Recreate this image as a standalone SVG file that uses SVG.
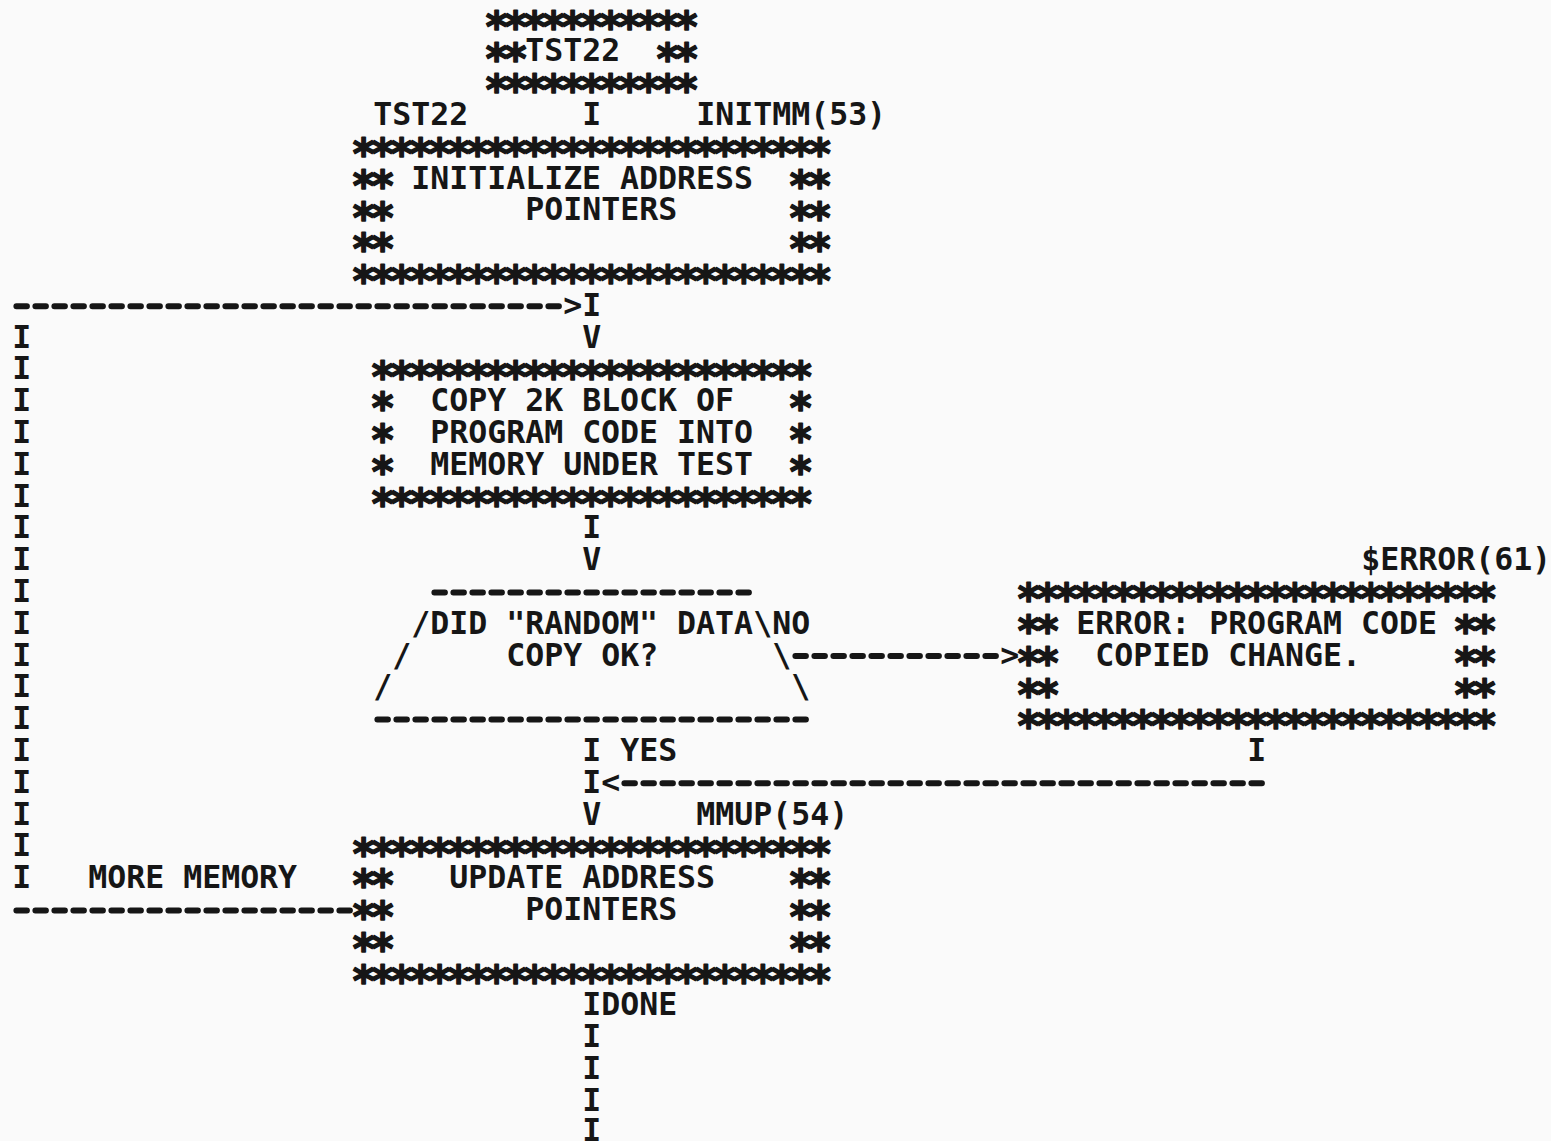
<svg xmlns="http://www.w3.org/2000/svg" width="1551" height="1141" viewBox="0 0 1551 1141">
<style>
text{font-family:"DejaVu Sans Mono","Liberation Mono",monospace;font-weight:bold;fill:#161616;white-space:pre}
.t{font-size:31.56px}
.s{font-size:42px;letter-spacing:-6.28px;stroke:#161616;stroke-width:1.4px;stroke-linejoin:round}
.d{stroke:#161616;stroke-width:6;stroke-linecap:round;stroke-dasharray:10.5 8.5;fill:none}
</style>
<rect width="1551" height="1141" fill="#fafafa"/>
<g id="start">
<text class="s" x="484.06" y="41.8">***********</text>
<text class="s" x="484.06" y="73.6">**</text><text class="t" x="525.2" y="61.3">TST22</text><text class="s" x="655.06" y="73.6">**</text>
<text class="s" x="484.06" y="105.4">***********</text>
<text class="t" x="373.2" y="124.9">TST22</text>
</g>
<g id="init">
<text class="t" x="696.2" y="124.9">INITMM(53)</text>
<text class="s" x="351.06" y="169">*************************</text>
<text class="s" x="351.06" y="200.8">**</text><text class="t" x="411.2" y="188.5">INITIALIZE ADDRESS</text><text class="s" x="788.06" y="200.8">**</text>
<text class="s" x="351.06" y="232.6">**</text><text class="t" x="525.2" y="220.3">POINTERS</text><text class="s" x="788.06" y="232.6">**</text>
<text class="s" x="351.06" y="264.4">**</text><text class="s" x="788.06" y="264.4">**</text>
<text class="s" x="351.06" y="296.2">*************************</text>
</g>
<g id="copy">
<text class="s" x="370.06" y="391.6">***********************</text>
<text class="s" x="370.06" y="423.4">*</text><text class="t" x="430.2" y="411.1">COPY 2K BLOCK OF</text><text class="s" x="788.06" y="423.4">*</text>
<text class="s" x="370.06" y="455.2">*</text><text class="t" x="430.2" y="442.9">PROGRAM CODE INTO</text><text class="s" x="788.06" y="455.2">*</text>
<text class="s" x="370.06" y="487">*</text><text class="t" x="430.2" y="474.7">MEMORY UNDER TEST</text><text class="s" x="788.06" y="487">*</text>
<text class="s" x="370.06" y="518.8">***********************</text>
</g>
<g id="decision">
<line class="d" x1="434.4" y1="592.4" x2="749" y2="592.4"/>
<text class="t" x="411.2" y="633.7">/DID "RANDOM" DATA</text><text class="t" x="753.2" y="633.7">\</text>
<text class="t" x="392.2" y="665.5">/</text><text class="t" x="506.2" y="665.5">COPY OK?</text><text class="t" x="772.2" y="665.5">\</text>
<text class="t" x="373.2" y="697.3">/</text><text class="t" x="791.2" y="697.3">\</text>
<line class="d" x1="377.4" y1="719.6" x2="806" y2="719.6"/>
</g>
<g id="error">
<text class="t" x="1361.2" y="570.1">$ERROR(61)</text>
<text class="s" x="1016.06" y="614.2">*************************</text>
<text class="s" x="1016.06" y="646">**</text><text class="t" x="1076.2" y="633.7">ERROR: PROGRAM CODE</text><text class="s" x="1453.06" y="646">**</text>
<text class="s" x="1016.06" y="677.8">**</text><text class="t" x="1095.2" y="665.5">COPIED CHANGE.</text><text class="s" x="1453.06" y="677.8">**</text>
<text class="s" x="1016.06" y="709.6">**</text><text class="s" x="1453.06" y="709.6">**</text>
<text class="s" x="1016.06" y="741.4">*************************</text>
</g>
<g id="update">
<text class="t" x="696.2" y="824.5">MMUP(54)</text>
<text class="s" x="351.06" y="868.6">*************************</text>
<text class="s" x="351.06" y="900.4">**</text><text class="t" x="449.2" y="888.1">UPDATE ADDRESS</text><text class="s" x="788.06" y="900.4">**</text>
<text class="s" x="351.06" y="932.2">**</text><text class="t" x="525.2" y="919.9">POINTERS</text><text class="s" x="788.06" y="932.2">**</text>
<text class="s" x="351.06" y="964">**</text><text class="s" x="788.06" y="964">**</text>
<text class="s" x="351.06" y="995.8">*************************</text>
</g>
<g id="connectors">
<text class="t" x="582.2" y="124.9">I</text>
<line class="d" x1="16.4" y1="306.2" x2="559" y2="306.2"/>
<text class="t" x="563.2" y="315.7">&gt;</text><text class="t" x="582.2" y="315.7">I</text>
<text class="t" x="582.2" y="347.5">V</text>
<text class="t" x="582.2" y="538.3">I</text>
<text class="t" x="582.2" y="570.1">V</text>
<text class="t" x="772.2" y="633.7">NO</text>
<line class="d" x1="795.4" y1="656" x2="996" y2="656"/>
<text class="t" x="1000.2" y="665.5">&gt;</text>
<text class="t" x="582.2" y="760.9">I</text><text class="t" x="620.2" y="760.9">YES</text>
<text class="t" x="1247.2" y="760.9">I</text>
<text class="t" x="582.2" y="792.7">I</text><text class="t" x="601.2" y="792.7">&lt;</text>
<line class="d" x1="624.4" y1="783.2" x2="1262" y2="783.2"/>
<text class="t" x="582.2" y="824.5">V</text>
<text class="t" x="88.2" y="888.1">MORE MEMORY</text>
<line class="d" x1="16.4" y1="910.4" x2="350" y2="910.4"/>
<text class="t" x="12.2" y="347.5">I</text>
<text class="t" x="12.2" y="379.3">I</text>
<text class="t" x="12.2" y="411.1">I</text>
<text class="t" x="12.2" y="442.9">I</text>
<text class="t" x="12.2" y="474.7">I</text>
<text class="t" x="12.2" y="506.5">I</text>
<text class="t" x="12.2" y="538.3">I</text>
<text class="t" x="12.2" y="570.1">I</text>
<text class="t" x="12.2" y="601.9">I</text>
<text class="t" x="12.2" y="633.7">I</text>
<text class="t" x="12.2" y="665.5">I</text>
<text class="t" x="12.2" y="697.3">I</text>
<text class="t" x="12.2" y="729.1">I</text>
<text class="t" x="12.2" y="760.9">I</text>
<text class="t" x="12.2" y="792.7">I</text>
<text class="t" x="12.2" y="824.5">I</text>
<text class="t" x="12.2" y="856.3">I</text>
<text class="t" x="12.2" y="888.1">I</text>
<text class="t" x="582.2" y="1015.3">IDONE</text>
<text class="t" x="582.2" y="1047.1">I</text>
<text class="t" x="582.2" y="1078.9">I</text>
<text class="t" x="582.2" y="1110.7">I</text>
<text class="t" x="582.2" y="1140.5">I</text>
</g>
</svg>
